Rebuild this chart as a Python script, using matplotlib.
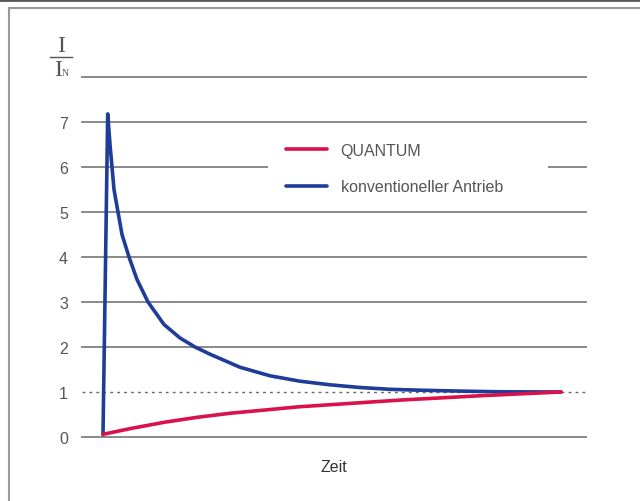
import matplotlib.pyplot as plt
from matplotlib.lines import Line2D
from matplotlib.patches import Rectangle

# curve data, x in arbitrary time units (Zeit)
blue_t = [0, 4.7, 7, 9, 11, 15, 19, 26, 34, 45, 61, 77, 92, 107, 137,
          167, 197, 227, 257, 287, 317, 357, 397, 458]
blue_v = [0.05, 7.18, 6.5, 6.0, 5.5, 5.0, 4.5, 4.0, 3.5, 3.0, 2.5, 2.2, 2.0, 1.84, 1.55,
          1.36, 1.24, 1.16, 1.10, 1.06, 1.04, 1.02, 1.005, 1.0]
red_t = [0, 28, 62, 95, 128, 162, 195, 297, 380, 458]
red_v = [0.06, 0.19, 0.33, 0.44, 0.53, 0.60, 0.67, 0.82, 0.92, 1.0]
y_ticks = [0, 1, 2, 3, 4, 5, 6, 7]
grid_levels = [0, 2, 3, 4, 5, 6, 7, 8]

red = "#d9124b"
blue = "#1f3c98"
grey_txt = "#555555"
plt.rcParams['font.family'] = ['Liberation Sans', 'DejaVu Sans']

fig = plt.figure(figsize=(6.4, 5.02), dpi=100)
ax = fig.add_axes([82 / 640, 1 - 438 / 502, 504 / 640, 360 / 502])
ax.set_xlim(-21, 483)
ax.set_ylim(0, 8)

for g in grid_levels:
    ax.axhline(g, color="#808080", lw=1.3, clip_on=False, zorder=1)
ax.axhline(1, color="#666666", lw=1.0, ls=(0, (2, 3)), clip_on=False, zorder=1)

ax.plot(red_t, red_v, color=red, lw=2.6, label="QUANTUM", zorder=3,
        solid_capstyle="round", solid_joinstyle="round")
ax.plot(blue_t, blue_v, color=blue, lw=2.6, label="konventioneller Antrieb", zorder=2,
        solid_capstyle="round", solid_joinstyle="round")

for s in ax.spines.values():
    s.set_visible(False)
ax.set_xticks([])
ax.set_yticks(y_ticks)
ax.set_yticklabels([str(v) for v in y_ticks])
ax.tick_params(axis="y", length=0, pad=10, labelsize=11.5, labelcolor=grey_txt)
ax.set_xlabel("Zeit", fontsize=11.5, color="#333333", labelpad=16)

# white box behind legend, hiding the gridline (pixels 268..548 x 130..205)
ax.add_patch(Rectangle((186 / 504, 1 - 127 / 360), 280 / 504, 75 / 360, transform=ax.transAxes,
                       facecolor="white", edgecolor="none", zorder=1.5))
leg = ax.legend(loc="upper left", bbox_to_anchor=(194 / 504, 1 - 56 / 360), frameon=False,
                fontsize=11.5, handlelength=2.6, handletextpad=0.85, labelspacing=1.35,
                borderpad=0.6, borderaxespad=0)
for t in leg.get_texts():
    t.set_color(grey_txt)

# y label I / I_N
fig.text(61 / 640, 1 - 47 / 502, "I", family="Liberation Serif", fontsize=17,
         color=grey_txt, ha="center", va="center")
fig.add_artist(Line2D([50 / 640, 72 / 640], [1 - 58 / 502, 1 - 58 / 502], color=grey_txt, lw=1.0))
fig.text(58 / 640, 1 - 71 / 502, "I", family="Liberation Serif", fontsize=17,
         color=grey_txt, ha="center", va="center")
fig.text(62 / 640, 1 - 74 / 502, "N", family="Liberation Serif", fontsize=7,
         color=grey_txt, ha="left", va="center")

# frame
fig.add_artist(Line2D([0, 1], [1 - 1 / 502, 1 - 1 / 502], color="#555555", lw=2))
fig.add_artist(Line2D([9 / 640, 1], [1 - 9 / 502, 1 - 9 / 502], color="#999999", lw=1.5))
fig.add_artist(Line2D([9 / 640, 9 / 640], [0, 1 - 9 / 502], color="#999999", lw=1.5))

fig.savefig("out.png", dpi=100)
